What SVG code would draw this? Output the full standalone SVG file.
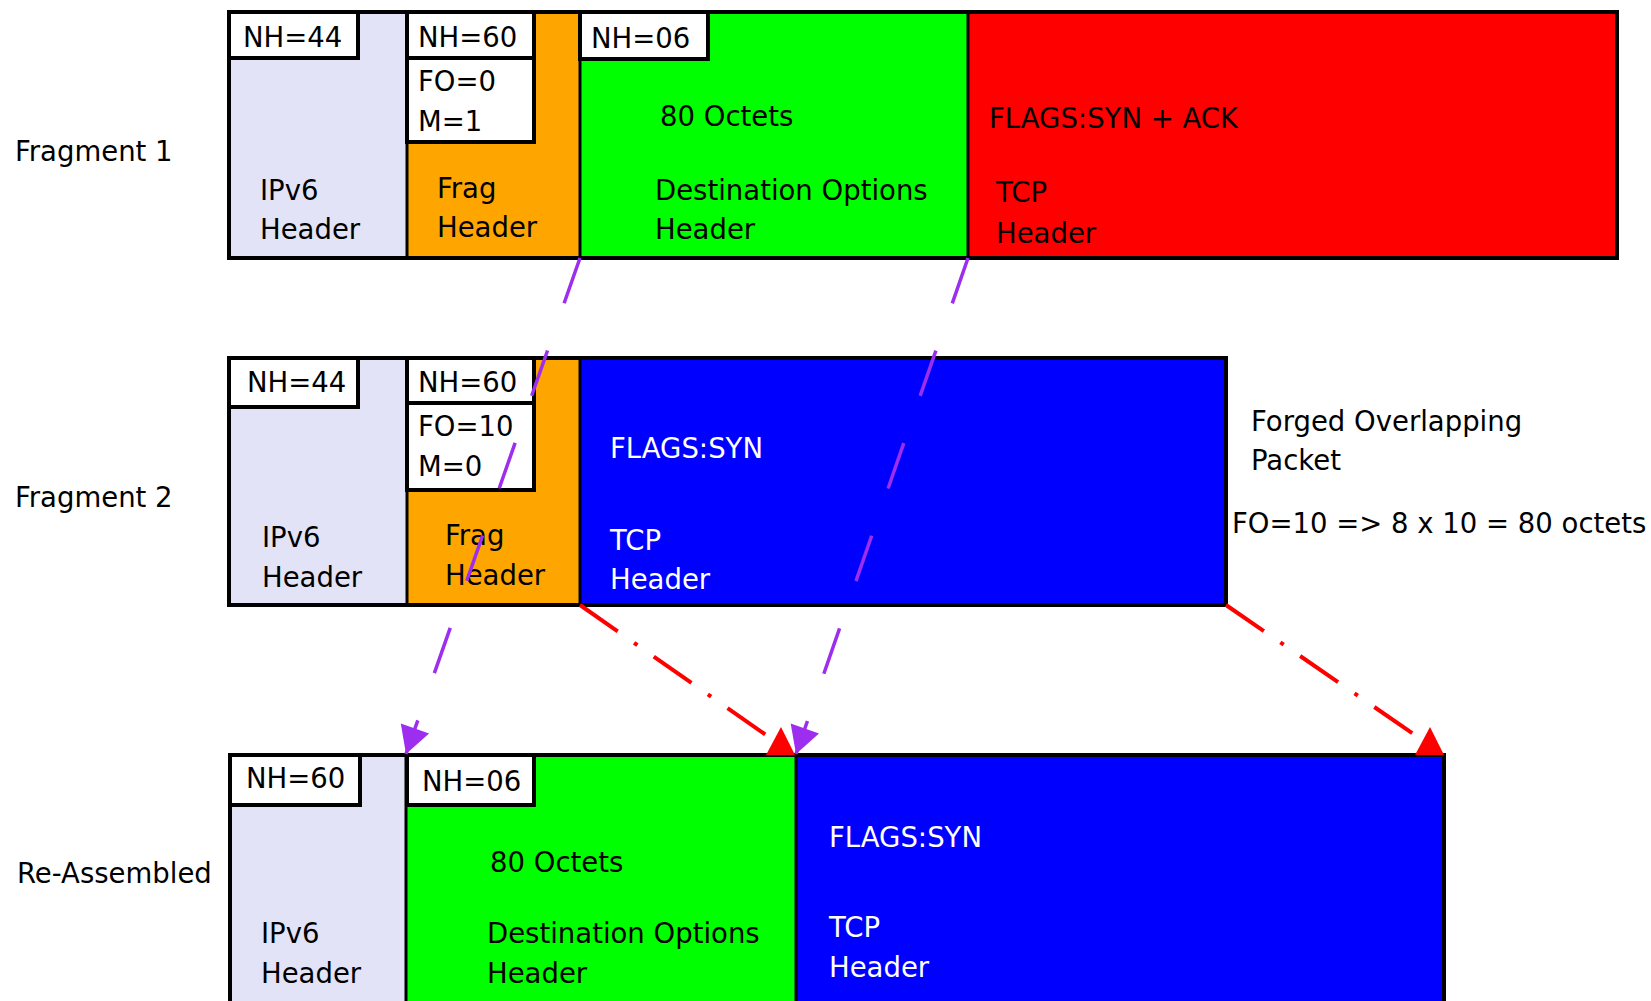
<svg xmlns="http://www.w3.org/2000/svg" width="1651" height="1001" viewBox="0 0 1651 1001">
<defs>
<style>
 text { font-family: "DejaVu Sans", "Liberation Sans", sans-serif; font-size: 27.5px; fill: #000; }
 text.w { fill: #fff; }
 .frame { fill: none; stroke: #000; stroke-width: 4; }
 .div { stroke: #000; stroke-width: 3; }
 .nh { fill: #fff; stroke: #000; stroke-width: 4; }
 .ipv6 { fill: #e3e3f8; }
 .frag { fill: #ffa500; }
 .dst { fill: #00ff00; }
 .tcpr { fill: #ff0000; }
 .tcpb { fill: #0000ff; }
 .purple { fill: none; stroke: #9d2ef0; stroke-width: 3.5; stroke-dasharray: 48 50; marker-end: url(#pa); }
 .red { fill: none; stroke: #ff0000; stroke-width: 4; stroke-dasharray: 46 20 4 20; marker-end: url(#ra); }
</style>
<marker id="pa" markerUnits="userSpaceOnUse" orient="auto" markerWidth="40" markerHeight="40" viewBox="-35 -20 40 40" refX="0" refY="0" overflow="visible">
 <path d="M0,0 L-27,-15 L-27,15 Z" fill="#9d2ef0"/>
</marker>
<marker id="ra" markerUnits="userSpaceOnUse" orient="0" markerWidth="50" markerHeight="40" viewBox="-10 -15 50 40" refX="0" refY="0" overflow="visible">
 <path d="M15,-8 L29,20 L0,20 Z" fill="#ff0000"/>
</marker>
</defs>
<rect x="0" y="0" width="1651" height="1001" fill="#fff"/>

<!-- labels -->
<g id="labels">
 <text x="15" y="161">Fragment 1</text>
 <text x="15" y="507">Fragment 2</text>
 <text x="17" y="883">Re-Assembled</text>
</g>

<!-- Fragment 1 -->
<g id="f1-ipv6">
 <rect class="ipv6" x="229" y="12" width="178" height="246"/>
 <rect class="nh" x="229" y="12" width="129" height="46"/>
 <text x="243" y="47">NH=44</text>
 <text x="260" y="200">IPv6</text>
 <text x="260" y="239">Header</text>
</g>
<g id="f1-frag">
 <rect class="frag" x="407" y="12" width="173" height="246"/>
 <rect class="nh" x="407" y="12" width="127" height="46"/>
 <rect class="nh" x="407" y="58" width="127" height="84"/>
 <text x="418" y="47">NH=60</text>
 <text x="418" y="91">FO=0</text>
 <text x="418" y="131">M=1</text>
 <text x="437" y="198">Frag</text>
 <text x="437" y="237">Header</text>
</g>
<g id="f1-dst">
 <rect class="dst" x="580" y="12" width="388" height="246"/>
 <rect class="nh" x="580" y="12" width="128" height="47"/>
 <text x="591" y="48">NH=06</text>
 <text x="660" y="126">80 Octets</text>
 <text x="655" y="200">Destination Options</text>
 <text x="655" y="239">Header</text>
</g>
<g id="f1-tcp">
 <rect class="tcpr" x="968" y="12" width="649" height="246"/>
 <text x="989" y="128">FLAGS:SYN + ACK</text>
 <text x="996" y="202">TCP</text>
 <text x="996" y="243">Header</text>
</g>
<g id="f1-frame">
 <line class="div" x1="407" y1="12" x2="407" y2="258"/>
 <line class="div" x1="580" y1="12" x2="580" y2="258"/>
 <line class="div" x1="968" y1="12" x2="968" y2="258"/>
 <rect class="frame" x="229" y="12" width="1388" height="246"/>
</g>

<!-- Fragment 2 -->
<g id="f2-ipv6">
 <rect class="ipv6" x="229" y="358" width="178" height="247"/>
 <rect class="nh" x="229" y="358" width="129" height="49"/>
 <text x="247" y="392">NH=44</text>
 <text x="262" y="547">IPv6</text>
 <text x="262" y="587">Header</text>
</g>
<g id="f2-frag">
 <rect class="frag" x="407" y="358" width="173" height="247"/>
 <rect class="nh" x="407" y="358" width="127" height="45"/>
 <rect class="nh" x="407" y="403" width="127" height="87"/>
 <text x="418" y="392">NH=60</text>
 <text x="418" y="436">FO=10</text>
 <text x="418" y="476">M=0</text>
 <text x="445" y="545">Frag</text>
 <text x="445" y="585">Header</text>
</g>
<g id="f2-tcp">
 <rect class="tcpb" x="580" y="358" width="646" height="247"/>
 <text class="w" x="610" y="458">FLAGS:SYN</text>
 <text class="w" x="610" y="550">TCP</text>
 <text class="w" x="610" y="589">Header</text>
</g>
<g id="f2-frame">
 <line class="div" x1="407" y1="358" x2="407" y2="605"/>
 <line class="div" x1="580" y1="358" x2="580" y2="605"/>
 <rect class="frame" x="229" y="358" width="997" height="247"/>
</g>
<g id="f2-note">
 <text x="1251" y="431">Forged Overlapping</text>
 <text x="1251" y="470">Packet</text>
 <text x="1232" y="533">FO=10 =&gt; 8 x 10 = 80 octets</text>
</g>

<!-- Re-Assembled -->
<g id="r-ipv6">
 <rect class="ipv6" x="230" y="755" width="176" height="260"/>
 <rect class="nh" x="230" y="755" width="130" height="50"/>
 <text x="246" y="788">NH=60</text>
 <text x="261" y="943">IPv6</text>
 <text x="261" y="983">Header</text>
</g>
<g id="r-dst">
 <rect class="dst" x="406" y="755" width="390" height="260"/>
 <rect class="nh" x="407" y="755" width="127" height="50"/>
 <text x="422" y="791">NH=06</text>
 <text x="490" y="872">80 Octets</text>
 <text x="487" y="943">Destination Options</text>
 <text x="487" y="983">Header</text>
</g>
<g id="r-tcp">
 <rect class="tcpb" x="796" y="755" width="648" height="260"/>
 <text class="w" x="829" y="847">FLAGS:SYN</text>
 <text class="w" x="829" y="937">TCP</text>
 <text class="w" x="829" y="977">Header</text>
</g>
<g id="r-frame">
 <line class="div" x1="406" y1="755" x2="406" y2="1015"/>
 <line class="div" x1="796" y1="755" x2="796" y2="1015"/>
 <rect class="frame" x="230" y="755" width="1214" height="260"/>
</g>

<!-- connectors -->
<g id="connectors">
 <path class="purple" d="M580,258 L406,754"/>
 <path class="purple" d="M968,258 L796,754"/>
 <path class="red" d="M580,605 L766,735"/>
 <path class="red" d="M1226,605 L1415,735"/>
</g>
</svg>
